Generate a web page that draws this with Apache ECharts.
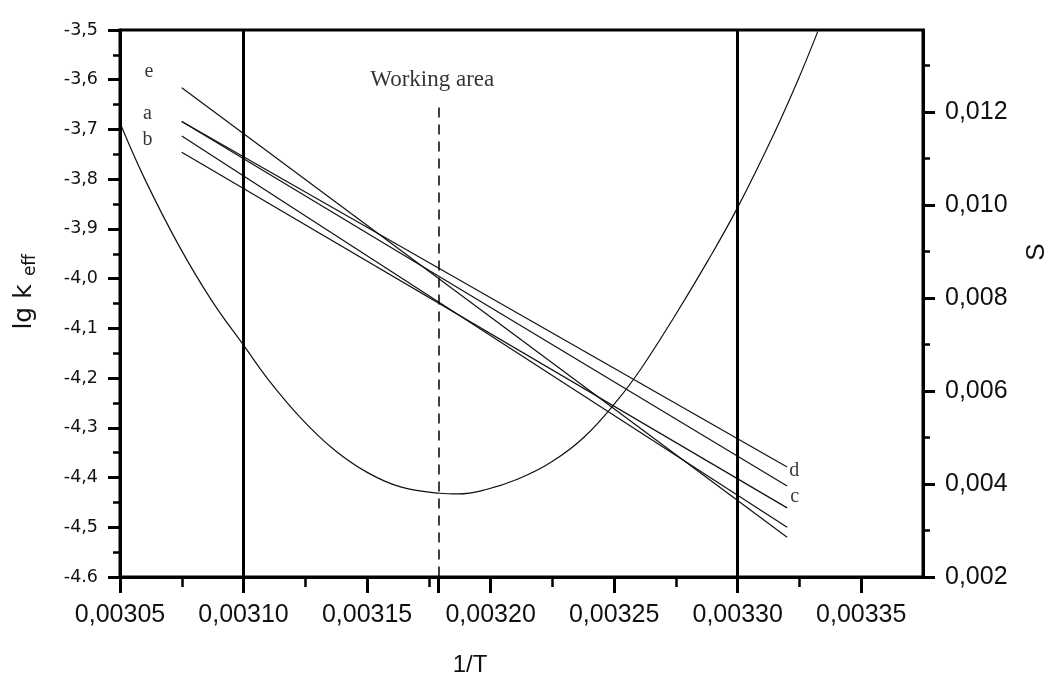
<!DOCTYPE html>
<html><head><meta charset="utf-8">
<script src="https://cdn.jsdelivr.net/npm/echarts@6/dist/echarts.min.js"></script>
<style>html,body{margin:0;padding:0;background:#fff}#c{width:1052px;height:677px}</style>
</head><body><div id="c"></div>
<script>
// ---- axis ticks / labels ----
const xMajorTicks = [0.00305, 0.0031, 0.00315, 0.0032, 0.00325, 0.0033, 0.00335];
const xMinorTicks = [0.003075, 0.003125, 0.003175, 0.003225, 0.003275, 0.003325];
const xTickLabels = ['0,00305', '0,00310', '0,00315', '0,00320', '0,00325', '0,00330', '0,00335'];
const leftTicks = [-4.6, -4.5, -4.4, -4.3, -4.2, -4.1, -4.0, -3.9, -3.8, -3.7, -3.6, -3.5];
const leftTickLabels = ['-4.6', '-4,5', '-4,4', '-4,3', '-4,2', '-4,1', '-4,0', '-3,9', '-3,8', '-3,7', '-3,6', '-3,5'];
const leftMinorTicks = [-4.55, -4.45, -4.35, -4.25, -4.15, -4.05, -3.95, -3.85, -3.75, -3.65, -3.55];
const rightTicks = [0.002, 0.004, 0.006, 0.008, 0.010, 0.012];
const rightTickLabels = ['0,002', '0,004', '0,006', '0,008', '0,010', '0,012'];
const rightMinorTicks = [0.003, 0.005, 0.007, 0.009, 0.011, 0.013];

// ---- lg k_eff straight lines ----
const lineStartX = 0.003075;
const lineEndX = 0.00332;
const lineStartY = [-3.616, -3.684, -3.684, -3.713, -3.746];
const lineEndY = [-4.520, -4.417, -4.379, -4.500, -4.461];

// ---- S curve (right axis) ----
const sX = [0.0030506, 0.0030599, 0.0030735, 0.003087, 0.0031005, 0.00311, 0.0031234, 0.0031368, 0.0031504, 0.0031639, 0.0031794, 0.0031868, 0.0031975, 0.0032111, 0.0032246, 0.0032379, 0.0032515, 0.003261, 0.0032743, 0.0032879, 0.0033001, 0.0033148, 0.0033244, 0.0033324];
const sY = [0.011684, 0.010570, 0.009157, 0.007953, 0.006946, 0.006245, 0.005406, 0.004731, 0.004239, 0.003931, 0.003800, 0.003785, 0.003871, 0.004108, 0.004473, 0.005011, 0.005811, 0.006488, 0.007591, 0.008796, 0.009957, 0.011542, 0.012684, 0.013725];

// ---- reference lines ----
const boundaryX = [0.0031, 0.0033];
const workingX = 0.003179;
const workingTopY = -3.656;

// ---- annotations ----
const letterNames = ['e', 'a', 'b', 'd', 'c'];
const letterX = [0.0030617, 0.0030611, 0.0030611, 0.0033229, 0.0033231];
const letterY = [-3.5835, -3.669, -3.721, -4.387, -4.439];
const areaText = 'Working area';
const areaPos = [0.0031764, -3.6005];

const chart = echarts.init(document.getElementById('c'), null, {renderer: 'canvas'});
const sans = 'Liberation Sans, Arial, sans-serif';
const serif = 'Liberation Serif, Times New Roman, serif';
const pick = (ticks, labels) => v => {
  for (let i = 0; i < ticks.length; i++) if (Math.abs(ticks[i] - v) < 1e-9) return labels[i];
  return '';
};

const xMin = 0.00305, xMax = 0.003375, yMin = -4.6, yMax = -3.5, sMin = 0.002, sMax = 0.01376;

const lineSeries = lineStartY.map((y0, i) => ({
  type: 'line', xAxisIndex: 0, yAxisIndex: 0, symbol: 'none', silent: true,
  lineStyle: {color: '#111', width: 1.2},
  data: [[lineStartX, y0], [lineEndX, lineEndY[i]]]
}));
lineSeries[0].markLine = {
  silent: true, symbol: ['none', 'none'], label: {show: false}, animation: false,
  data: [
    ...boundaryX.map(x => [
      {coord: [x, yMin], lineStyle: {color: '#000', width: 3, type: 'solid'}},
      {coord: [x, yMax]}
    ]),
    [{coord: [workingX, workingTopY], lineStyle: {color: '#000', width: 1.5, type: [10, 7]}}, {coord: [workingX, yMin]}]
  ]
};

chart.setOption({
  animation: false,
  backgroundColor: '#fff',
  grid: {left: 120, right: 129, top: 30, bottom: 100, show: true, borderColor: '#000', borderWidth: 3},
  xAxis: [
    {type: 'value', position: 'bottom', min: xMin, max: xMax, interval: 0.00005,
     axisLine: {show: true, lineStyle: {color: '#000', width: 3}},
     axisTick: {show: true, length: 16, lineStyle: {color: '#000', width: 3}, customValues: xMajorTicks.concat([workingX])},
     axisLabel: {show: true, margin: 26, fontSize: 25, fontFamily: sans, color: '#111', customValues: xMajorTicks, formatter: pick(xMajorTicks, xTickLabels)},
     splitLine: {show: false}},
    {type: 'value', position: 'bottom', min: xMin, max: xMax, interval: 0.000025,
     axisLine: {show: false},
     axisTick: {show: true, length: 10, lineStyle: {color: '#000', width: 2.5}, customValues: xMinorTicks},
     axisLabel: {show: false}, splitLine: {show: false}}
  ],
  yAxis: [
    {type: 'value', position: 'left', min: yMin, max: yMax, interval: 0.1,
     axisLine: {show: true, lineStyle: {color: '#000', width: 3}},
     axisTick: {show: true, length: 12, lineStyle: {color: '#000', width: 3}, customValues: leftTicks},
     axisLabel: {show: true, margin: 22, fontSize: 17.5, fontFamily: 'DejaVu Sans, sans-serif', color: '#111', customValues: leftTicks, formatter: pick(leftTicks, leftTickLabels)},
     splitLine: {show: false}},
    {type: 'value', position: 'right', min: sMin, max: sMax, interval: 0.002,
     axisLine: {show: true, lineStyle: {color: '#000', width: 3}},
     axisTick: {show: true, length: 12, lineStyle: {color: '#000', width: 3}, customValues: rightTicks},
     axisLabel: {show: true, margin: 22, fontSize: 25, fontFamily: sans, color: '#111', customValues: rightTicks, formatter: pick(rightTicks, rightTickLabels)},
     splitLine: {show: false}},
    {type: 'value', position: 'left', min: yMin, max: yMax, interval: 0.05,
     axisLine: {show: false},
     axisTick: {show: true, length: 7, lineStyle: {color: '#000', width: 2.5}, customValues: leftMinorTicks},
     axisLabel: {show: false}, splitLine: {show: false}},
    {type: 'value', position: 'right', min: sMin, max: sMax, interval: 0.001,
     axisLine: {show: false},
     axisTick: {show: true, length: 7, lineStyle: {color: '#000', width: 2.5}, customValues: rightMinorTicks},
     axisLabel: {show: false}, splitLine: {show: false}}
  ],
  series: [
    ...lineSeries,
    {type: 'line', xAxisIndex: 0, yAxisIndex: 1, symbol: 'none', smooth: 0.4, silent: true,
     lineStyle: {color: '#111', width: 1.2},
     data: sX.map((x, i) => [x, sY[i]])},
    {type: 'scatter', xAxisIndex: 0, yAxisIndex: 0, symbolSize: 1, silent: true,
     itemStyle: {color: 'rgba(0,0,0,0)'},
     label: {show: true, position: 'inside', formatter: '{b}', fontFamily: serif, fontSize: 20, color: '#000'},
     data: letterNames.map((n, i) => ({name: n, value: [letterX[i], letterY[i]]}))},
    {type: 'scatter', xAxisIndex: 0, yAxisIndex: 0, symbolSize: 1, silent: true,
     itemStyle: {color: 'rgba(0,0,0,0)'},
     label: {show: true, position: 'inside', formatter: '{b}', fontFamily: serif, fontSize: 23, color: '#000'},
     data: [{name: areaText, value: areaPos}]}
  ],
  graphic: [
    {type: 'text', x: 24, y: 307, rotation: Math.PI / 2, silent: true,
     style: {text: 'lg k', fontSize: 25, fontFamily: 'DejaVu Sans, sans-serif', fill: '#111', align: 'center', verticalAlign: 'middle'}},
    {type: 'text', x: 31, y: 265, rotation: Math.PI / 2, silent: true,
     style: {text: 'eff', fontSize: 17, fontFamily: 'DejaVu Sans, sans-serif', fill: '#111', align: 'center', verticalAlign: 'middle'}},
    {type: 'text', x: 1037, y: 252, rotation: Math.PI / 2, silent: true,
     style: {text: 'S', fontSize: 26, fontFamily: sans, fill: '#111', align: 'center', verticalAlign: 'middle'}},
    {type: 'text', x: 470, y: 665, silent: true,
     style: {text: '1/T', fontSize: 24, fontFamily: sans, fill: '#111', align: 'center', verticalAlign: 'middle'}}
  ]
});
</script>
</body></html>
